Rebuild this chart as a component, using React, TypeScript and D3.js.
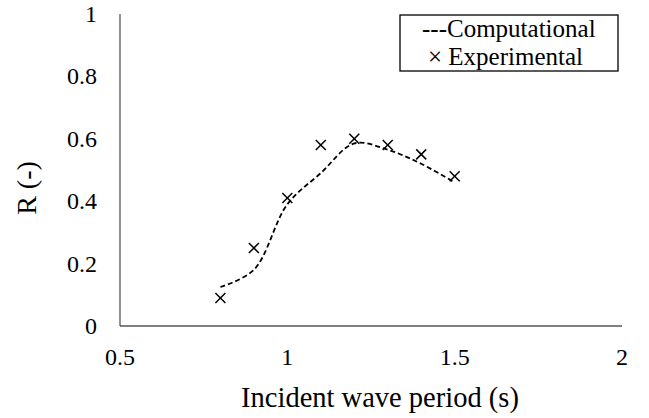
import React from "react";
import * as d3 from "d3";

const periods = [0.8, 0.9, 1.0, 1.1, 1.2, 1.3, 1.4, 1.5];
const computational = [0.125, 0.18, 0.39, 0.49, 0.585, 0.565, 0.52, 0.46];
const experimental = [0.09, 0.25, 0.41, 0.58, 0.6, 0.58, 0.55, 0.48];
const xTicks = [0.5, 1, 1.5, 2];
const yTicks = [0, 0.2, 0.4, 0.6, 0.8, 1];
const xTitle = "Incident wave period (s)";
const yTitle = "R (-)";
const legendLabels = ["---Computational", "× Experimental"];

const W = 649;
const H = 418;
const FONT = '"Liberation Serif", "Times New Roman", serif';

export default function App() {
  const x = d3.scaleLinear().domain([0.5, 2]).range([120, 622]);
  const y = d3.scaleLinear().domain([0, 1]).range([326, 14]);

  const line = d3
    .line<number>()
    .x((_, i) => x(periods[i]))
    .y((d) => y(d))
    .curve(d3.curveCatmullRom.alpha(0.5));

  const m = 5;
  const ts = { fontFamily: FONT };
  return (
    <svg
      width={W}
      height={H}
      style={{ position: "absolute", left: 0, top: 0, background: "#fff", fontFamily: FONT }}
    >
      <rect x={0} y={0} width={W} height={H} fill="#fff" />
      <line x1={x(0.5)} x2={x(0.5)} y1={y(1)} y2={y(0)} stroke="#555" strokeWidth={1.3} />
      <line x1={x(0.5)} x2={x(2)} y1={y(0)} y2={y(0)} stroke="#555" strokeWidth={1.3} />
      {yTicks.map((t) => (
        <text key={t} x={97} y={y(t) + 8} textAnchor="end" fontSize={24} fill="#000" style={ts}>
          {String(t)}
        </text>
      ))}
      {xTicks.map((t) => (
        <text key={t} x={x(t)} y={365} textAnchor="middle" fontSize={24} fill="#000" style={ts}>
          {String(t)}
        </text>
      ))}
      <text x={380} y={407} textAnchor="middle" fontSize={28.5} fill="#000" style={ts}>
        {xTitle}
      </text>
      <text
        transform={`translate(36,188) rotate(-90)`}
        textAnchor="middle"
        fontSize={28}
        fill="#000"
        style={ts}
      >
        {yTitle}
      </text>
      <path
        d={line(computational) || ""}
        fill="none"
        stroke="#000"
        strokeWidth={1.8}
        strokeDasharray="5,3"
      />
      {experimental.map((v, i) => {
        const cx = x(periods[i]);
        const cy = y(v);
        return (
          <g key={i} stroke="#000" strokeWidth={1.5}>
            <line x1={cx - m} y1={cy - m} x2={cx + m} y2={cy + m} />
            <line x1={cx - m} y1={cy + m} x2={cx + m} y2={cy - m} />
          </g>
        );
      })}
      <rect x={400} y={15} width={218} height={56} fill="#fff" stroke="#000" strokeWidth={1.3} />
      <text x={422} y={37} fontSize={25} fill="#000" style={ts}>
        {legendLabels[0]}
      </text>
      <text x={428} y={64.5} fontSize={25} fill="#000" style={ts}>
        {legendLabels[1]}
      </text>
    </svg>
  );
}
